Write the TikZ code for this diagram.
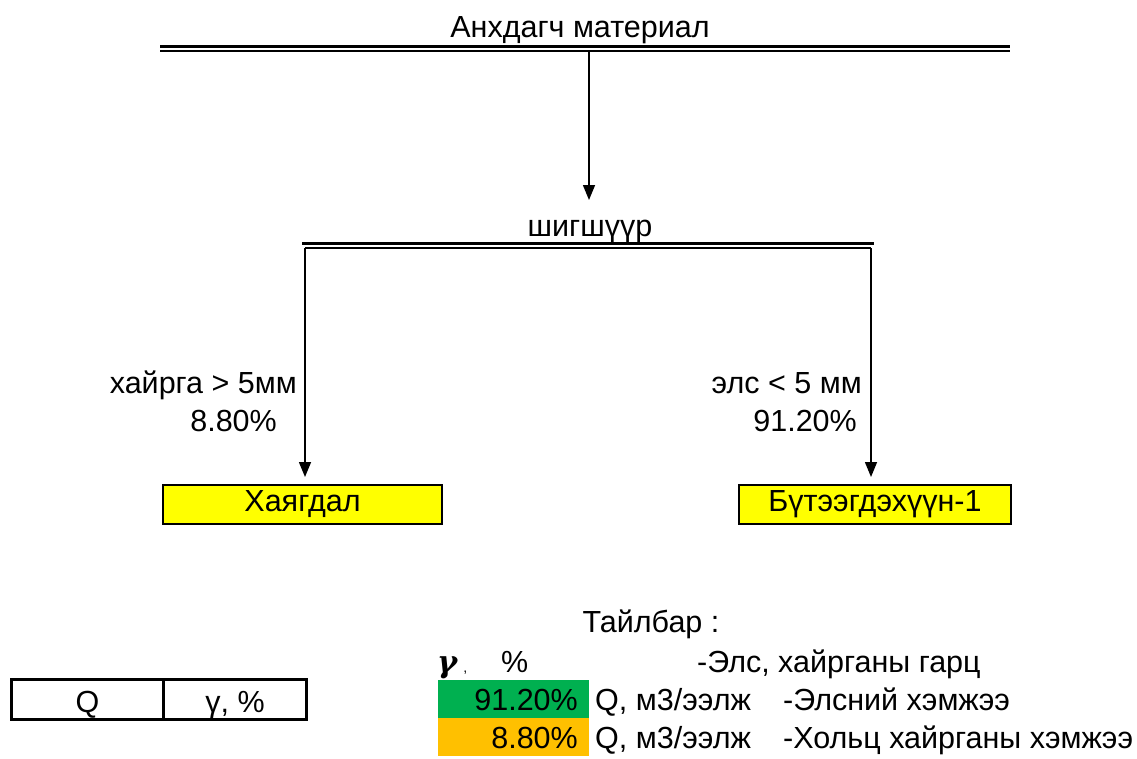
\documentclass[tikz,border=0pt]{standalone}
\usepackage{fontspec}
\setmainfont{Liberation Sans}
\newfontfamily\gfont{DejaVu Serif}
\usetikzlibrary{arrows.meta}
\definecolor{ygreen}{HTML}{00B050}
\definecolor{yorange}{HTML}{FFC000}
\definecolor{yyellow}{HTML}{FFFF00}
\tikzset{
  txt/.style={font=\fontsize{30.5}{34}\selectfont, inner sep=0pt},
  arr/.style={line width=1.5pt, -{Triangle[width=12pt,length=15pt]}},
  thickbar/.style={line width=3pt},
  thinbar/.style={line width=2pt},
  ybox/.style={txt, draw, line width=2pt, fill=yyellow, anchor=north west},
  cbox/.style={txt, anchor=north west, minimum width=151pt, minimum height=38pt},
  tcell/.style={txt, draw, line width=3pt, anchor=north west, minimum height=40pt},
}
\begin{document}
\begin{tikzpicture}[x=1pt,y=-1pt]
\useasboundingbox (0,0) rectangle (1137,758);
% top
\node[txt, anchor=base] (title) at (580,37) {Анхдагч материал};
\draw[thickbar] (160,46) -- (1010,46);
\draw[thinbar] (160,50.5) -- (1010,50.5);
\coordinate (src) at (589,51.5);
\coordinate (sieve) at (589,200);
\draw[arr] (src) -- (sieve);
% sieve
\node[txt, anchor=base] (sievelbl) at (590,236) {шигшүүр};
\draw[thickbar] (302,243) -- (874,243);
\coordinate (sl) at (305,248);
\coordinate (sr) at (871,248);
\draw[line width=2pt] (sl) -- (sr);
% boxes
\node[ybox, minimum width=279pt, minimum height=39pt] (waste) at (162,484) {Хаягдал};
\node[ybox, minimum width=272pt, minimum height=39pt] (prod) at (738,484) {Бүтээгдэхүүн-1};
\draw[arr, shorten >=7pt] (sl) -- (sl |- waste.north);
\draw[arr, shorten >=7pt] (sr) -- (sr |- prod.north);
% labels
\node[txt, anchor=base east] (gl) at (297,393) {хайрга > 5мм};
\node[txt, anchor=base east] (gp) at (277,431) {8.80\%};
\node[txt, anchor=base east] (sl2) at (862,393) {элс < 5 мм};
\node[txt, anchor=base east] (sp) at (857,431) {91.20\%};
% legend
\node[txt, anchor=base] (leg) at (651,632) {Тайлбар :};
\node[txt, anchor=base west] (gam) at (437,672) {{\gfont\bfseries\itshape γ}\kern6pt{\fontsize{14}{16}\selectfont,}\hspace{34pt}\%};
\node[txt, anchor=base west] (gamd) at (697,672) {-Элс, хайрганы гарц};
\node[cbox, fill=ygreen] (gbox) at (438,680) {};
\node[cbox, fill=yorange] (obox) at (438,718) {};
\node[txt, anchor=base east] (gv) at (578,710) {91.20\%};
\node[txt, anchor=base east] (ov) at (578,748) {8.80\%};
\node[txt, anchor=base west] (gq) at (595,710) {Q, м3/ээлж};
\node[txt, anchor=base west] (oq) at (595,748) {Q, м3/ээлж};
\node[txt, anchor=base west] (gd) at (783,710) {-Элсний хэмжээ};
\node[txt, anchor=base west] (od) at (783,748) {-Хольц хайрганы хэмжээ};
% left table
\node[tcell, minimum width=152pt] (qcell) at (10,678) {};
\node[tcell, minimum width=143pt] (gcell) at (162,678) {};
\node[txt, anchor=base] (qt) at (qcell.center |- 0,712) {Q};
\node[txt, anchor=base] (gt) at (gcell.center |- 0,712) {γ, \%};
\end{tikzpicture}
\end{document}
